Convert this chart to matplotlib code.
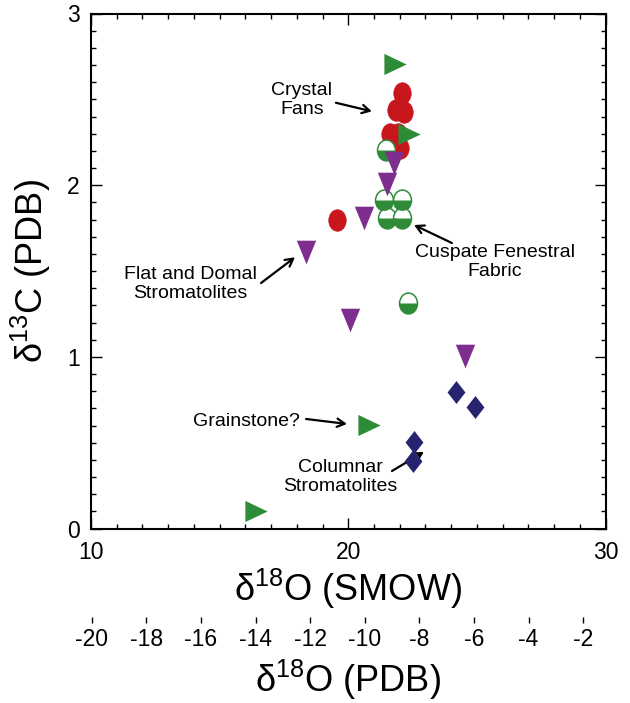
import matplotlib
matplotlib.use("Agg")
import numpy as np
import matplotlib.pyplot as plt
from matplotlib.path import Path
from matplotlib.transforms import Affine2D
from matplotlib.ticker import MultipleLocator

# --- isotope data: d18O (SMOW) and d13C (PDB) ---
crystal_fans_x = [22.08, 21.86, 22.15, 21.62, 21.93, 22.00, 19.55]
crystal_fans_y = [2.535, 2.435, 2.425, 2.300, 2.300, 2.215, 1.800]

green_tri_x = [21.80, 22.35, 20.80, 16.40]
green_tri_y = [2.705, 2.300, 0.603, 0.104]

cuspate_x = [21.47, 21.39, 22.08, 21.50, 22.10, 22.32]
cuspate_y = [2.205, 1.912, 1.912, 1.807, 1.807, 1.315]

flat_domal_x = [18.37, 20.62, 21.49, 21.78, 20.05, 24.55]
flat_domal_y = [1.610, 1.810, 2.006, 2.127, 1.215, 1.005]

columnar_x = [24.20, 24.94, 22.57, 22.52]
columnar_y = [0.797, 0.710, 0.504, 0.393]

pdb_ticks = [-20, -18, -16, -14, -12, -10, -8, -6, -4, -2]

# PDB scale printed under the SMOW axis (linear, as drawn)
PDB_AT_SMOW10 = -20.03
PDB_PER_SMOW = 0.9425

RED = "#C8161D"
GREEN = "#2E8B38"
PURPLE = "#7E2F8E"
NAVY = "#27246F"

plt.rcParams["font.family"] = ["Liberation Sans", "DejaVu Sans"]
plt.rcParams["mathtext.fontset"] = "custom"
plt.rcParams["mathtext.rm"] = "Liberation Sans"
plt.rcParams["mathtext.it"] = "Liberation Sans"
plt.rcParams["axes.unicode_minus"] = False


def ellipse_marker(wr):
    return Path.unit_circle().transformed(Affine2D().scale(wr, 1.0))


def lower_half_marker(wr):
    t = np.linspace(np.pi, 2 * np.pi, 60)
    verts = np.column_stack([wr * np.cos(t), np.sin(t)])
    verts = np.vstack([verts, verts[:1]])
    codes = [Path.MOVETO] + [Path.LINETO] * (len(t) - 1) + [Path.CLOSEPOLY]
    return Path(verts, codes)


def poly_marker(pts):
    pts = np.asarray(pts + [pts[0]], float)
    codes = [Path.MOVETO] + [Path.LINETO] * (len(pts) - 2) + [Path.CLOSEPOLY]
    return Path(pts, codes)


down_tri = poly_marker([(-0.82, 1.0), (0.82, 1.0), (0.0, -1.0)])
right_tri = poly_marker([(-1.0, 0.95), (1.0, 0.0), (-1.0, -0.95)])
diamond = poly_marker([(0.0, 1.0), (0.78, 0.0), (0.0, -1.0), (-0.78, 0.0)])
red_oval = ellipse_marker(0.81)
green_oval = ellipse_marker(0.86)
green_half = lower_half_marker(0.86)

fig = plt.figure(figsize=(6.3, 7.03), dpi=100)
W, H = 630.0, 703.0
ax = fig.add_axes([91 / W, 1 - 528.5 / H, (605.5 - 91) / W, (528.5 - 13.5) / H])

ax.plot(crystal_fans_x, crystal_fans_y, ls="none", marker=red_oval, ms=15.5,
        mfc=RED, mec=RED, mew=0.5, zorder=3)
ax.plot(green_tri_x, green_tri_y, ls="none", marker=right_tri, ms=16,
        mfc=GREEN, mec="none", zorder=4)
ax.plot(cuspate_x, cuspate_y, ls="none", marker=green_oval, ms=15,
        mfc="white", mec=GREEN, mew=1.1, zorder=5)
ax.plot(cuspate_x, cuspate_y, ls="none", marker=green_half, ms=15,
        mfc=GREEN, mec="none", zorder=5)
ax.plot(flat_domal_x, flat_domal_y, ls="none", marker=down_tri, ms=17,
        mfc=PURPLE, mec="none", zorder=6)
ax.plot(columnar_x, columnar_y, ls="none", marker=diamond, ms=16.5,
        mfc=NAVY, mec="none", zorder=6)

ax.set_xlim(10, 30)
ax.set_ylim(0, 3)
ax.set_xticks([10, 20, 30])
ax.set_yticks([0, 1, 2, 3])
ax.xaxis.set_minor_locator(MultipleLocator(1))
ax.yaxis.set_minor_locator(MultipleLocator(0.1))
ax.tick_params(which="both", direction="in", top=True, right=True, width=1)
ax.tick_params(which="major", length=8, labelsize=16.5)
ax.tick_params(which="minor", length=3.5)
ax.tick_params(axis="x", pad=9)
ax.tick_params(axis="y", pad=8)
for sp in ax.spines.values():
    sp.set_linewidth(1.5)

ax.set_xlabel("δ$^{18}$O (SMOW)", fontsize=26, labelpad=2)
ax.set_ylabel("δ$^{13}$C (PDB)", fontsize=26, labelpad=10)


def smow_to_pdb(s):
    return PDB_AT_SMOW10 + (np.asarray(s) - 10) * PDB_PER_SMOW


def pdb_to_smow(p):
    return 10 + (np.asarray(p) - PDB_AT_SMOW10) / PDB_PER_SMOW


sec = ax.secondary_xaxis(-0.172, functions=(smow_to_pdb, pdb_to_smow))
sec.set_xticks(pdb_ticks)
sec.spines["bottom"].set_visible(False)
sec.tick_params(direction="out", length=4, width=1, labelsize=16.5, pad=4)
sec.set_xlabel("δ$^{18}$O (PDB)", fontsize=26, labelpad=5)

# labels with arrows
txt = dict(fontsize=14, ha="center", va="center", multialignment="center", zorder=7)
arrow = dict(arrowstyle="->,head_length=0.55,head_width=0.3", color="black",
             lw=1.6, shrinkA=0, shrinkB=0)

ax.text(18.2, 2.496, "Crystal\nFans", **txt)
ax.annotate("", xy=(20.92, 2.43), xytext=(19.52, 2.48), arrowprops=arrow)

ax.text(13.85, 1.424, "Flat and Domal\nStromatolites", **txt)
ax.annotate("", xy=(17.93, 1.58), xytext=(16.61, 1.43), arrowprops=arrow)

ax.text(25.7, 1.552, "Cuspate Fenestral\nFabric", **txt)
ax.annotate("", xy=(22.56, 1.768), xytext=(24.03, 1.663), arrowprops=arrow)

ax.text(16.06, 0.626, "Grainstone?", **txt)
ax.annotate("", xy=(19.95, 0.609), xytext=(18.36, 0.638), arrowprops=arrow)

ax.text(19.68, 0.30, "Columnar\nStromatolites", **txt)
ax.annotate("", xy=(22.94, 0.446), xytext=(21.70, 0.335), arrowprops=arrow)

fig.savefig("out.png", dpi=100)
